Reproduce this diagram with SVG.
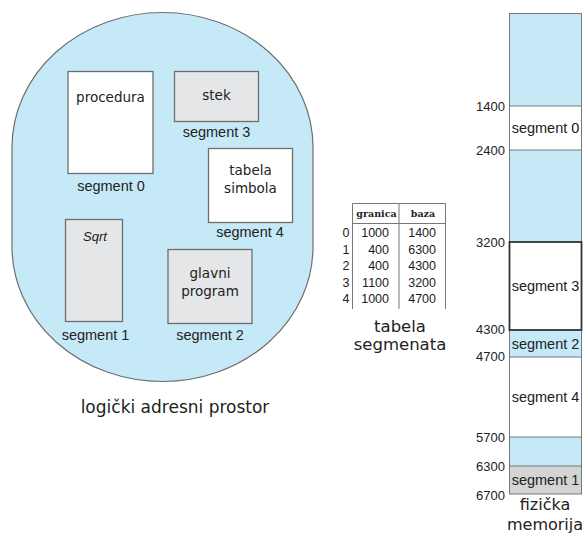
<svg xmlns="http://www.w3.org/2000/svg" width="587" height="536" viewBox="0 0 587 536">
<style>
.sans{font-family:"Liberation Sans",Arial,sans-serif;fill:#222}
.dv{font-family:"DejaVu Sans",Verdana,sans-serif;fill:#222}
.seg{font-size:14.5px;text-anchor:middle}
.box{stroke:#6e6e6e;stroke-width:1.3}
.white{fill:#ffffff}
.gray{fill:#e5e6e7}
.blue{fill:#c6e9f8}
.num{font-size:13px;text-anchor:end}
.tnum{font-size:12.5px;text-anchor:end}
.line{stroke:#777;stroke-width:1;fill:none}
</style>
<rect width="587" height="536" fill="#ffffff"/>

<g id="logical-space">
<rect x="12" y="12.5" width="301" height="369" rx="150.5" ry="135" class="blue" stroke="#6e6e6e" stroke-width="1.2"/>
</g>

<g id="seg0">
<rect x="68" y="71.5" width="85" height="102" class="box white"/>
<text x="110.5" y="102" class="dv" font-size="13.5" text-anchor="middle">procedura</text>
<text x="111" y="191" class="sans seg">segment 0</text>
</g>
<g id="seg3">
<rect x="174.5" y="71.5" width="84" height="50" class="box gray"/>
<text x="216.5" y="100" class="dv" font-size="13.5" text-anchor="middle">stek</text>
<text x="216.5" y="137" class="sans seg">segment 3</text>
</g>
<g id="seg4">
<rect x="208.5" y="148.5" width="84" height="74" class="box white"/>
<text x="250.5" y="175" class="dv" font-size="13.5" text-anchor="middle">tabela</text>
<text x="250.5" y="192.5" class="dv" font-size="13.5" text-anchor="middle">simbola</text>
<text x="250" y="237" class="sans seg">segment 4</text>
</g>
<g id="seg1">
<rect x="65.5" y="219.5" width="57" height="102" class="box gray"/>
<text x="95" y="241" class="sans" font-size="13" font-style="italic" text-anchor="middle">Sqrt</text>
<text x="95.5" y="340" class="sans seg">segment 1</text>
</g>
<g id="seg2">
<rect x="168" y="249.5" width="84" height="74" class="box gray"/>
<text x="210" y="278" class="dv" font-size="13.5" text-anchor="middle">glavni</text>
<text x="210" y="295.5" class="dv" font-size="13.5" text-anchor="middle">program</text>
<text x="210" y="340" class="sans seg">segment 2</text>
</g>
<text x="175" y="413" class="dv" font-size="17" text-anchor="middle">logički adresni prostor</text>

<g id="segment-table">
<path d="M352.5,309 V203.5 H445.5 V309 M399,203.5 V309 M352.5,223.5 H445.5" class="line" stroke="#666"/>
<text x="376.5" y="217" font-family="DejaVu Serif,serif" font-weight="bold" font-size="9.5" text-anchor="middle" fill="#222">granica</text>
<text x="423" y="217" font-family="DejaVu Serif,serif" font-weight="bold" font-size="9.5" text-anchor="middle" fill="#222">baza</text>
<g class="sans tnum">
<text x="349.5" y="237">0</text><text x="389" y="237">1000</text><text x="436" y="237">1400</text>
<text x="349.5" y="253.5">1</text><text x="389" y="253.5">400</text><text x="436" y="253.5">6300</text>
<text x="349.5" y="270">2</text><text x="389" y="270">400</text><text x="436" y="270">4300</text>
<text x="349.5" y="286.5">3</text><text x="389" y="286.5">1100</text><text x="436" y="286.5">3200</text>
<text x="349.5" y="303">4</text><text x="389" y="303">1000</text><text x="436" y="303">4700</text>
</g>
<text x="400" y="332" class="dv" font-size="16.5" text-anchor="middle">tabela</text>
<text x="400" y="350" class="dv" font-size="16.5" text-anchor="middle">segmenata</text>
</g>

<g id="physical-memory">
<rect x="509.5" y="13.5" width="72" height="92.5" class="blue"/>
<rect x="509.5" y="106" width="72" height="44" class="white"/>
<rect x="509.5" y="150" width="72" height="92" class="blue"/>
<rect x="509.5" y="242" width="72" height="88" class="white"/>
<rect x="509.5" y="330" width="72" height="27" class="blue"/>
<rect x="509.5" y="357" width="72" height="80" class="white"/>
<rect x="509.5" y="437" width="72" height="29" class="blue"/>
<rect x="509.5" y="466" width="72" height="28" fill="#d4d4d4"/>
<path d="M509.5,106 H581.5 M509.5,150 H581.5 M509.5,357 H581.5 M509.5,437 H581.5 M509.5,466 H581.5" class="line"/>
<rect x="509.5" y="13.5" width="72" height="480.5" class="line" stroke="#888"/>
<rect x="509.5" y="242" width="72" height="88" fill="none" stroke="#333" stroke-width="1.8"/>
<g class="sans seg">
<text x="545.5" y="133">segment 0</text>
<text x="545.5" y="291">segment 3</text>
<text x="545.5" y="349">segment 2</text>
<text x="545.5" y="402">segment 4</text>
<text x="545.5" y="485">segment 1</text>
</g>
<g class="sans num">
<text x="505" y="111">1400</text>
<text x="505" y="155">2400</text>
<text x="505" y="247">3200</text>
<text x="505" y="334">4300</text>
<text x="505" y="361">4700</text>
<text x="505" y="442">5700</text>
<text x="505" y="471">6300</text>
<text x="505" y="500">6700</text>
</g>
<text x="545" y="510" class="dv" font-size="16" text-anchor="middle">fizička</text>
<text x="545" y="530" class="dv" font-size="16" text-anchor="middle">memorija</text>
</g>
</svg>
